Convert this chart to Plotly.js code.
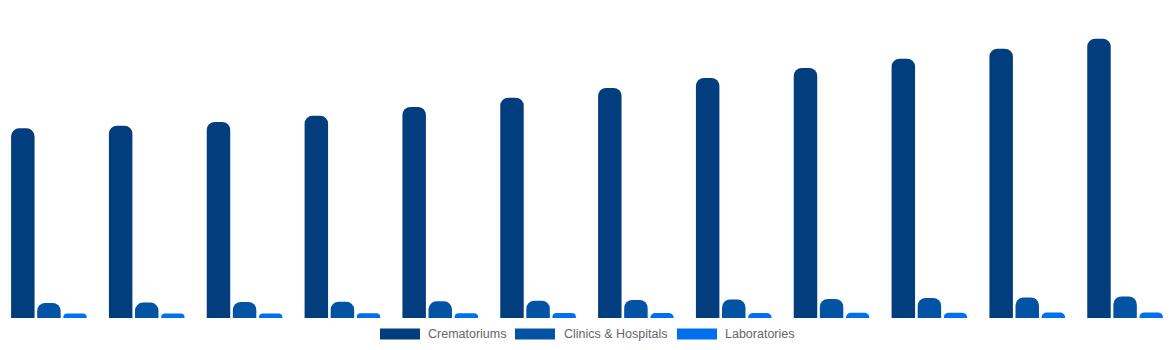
<!DOCTYPE html>
<html>
<head>
<meta charset="utf-8">
<script src="https://cdn.plot.ly/plotly-3.0.1.min.js"></script>
<style>html,body{margin:0;padding:0;background:#fff;}#chart{width:1174px;height:350px;}</style>
</head>
<body>
<div id="chart"></div>
<script>
var years = ["2023","2024","2025","2026","2027","2028","2029","2030","2031","2032","2033","2034"];
var crematoriums = [189.7, 192.3, 196.0, 202.3, 211.0, 220.3, 230.0, 240.0, 250.0, 259.3, 269.3, 279.3];
var clinicsHospitals = [15.0, 15.4, 16.0, 16.3, 16.7, 17.3, 18.0, 18.6, 19.0, 20.0, 20.6, 21.6];
var laboratories = [4.4, 4.5, 4.6, 4.7, 4.8, 4.9, 5.0, 5.1, 5.2, 5.3, 5.4, 5.6];
var seriesNames = ["Crematoriums", "Clinics & Hospitals", "Laboratories"];
var seriesColors = ["#023e7d", "#0353a4", "#0070ee"];
var seriesData = [crematoriums, clinicsHospitals, laboratories];

var W = 1174;
var traces = seriesData.map(function(d, i){
  return {type:'bar', name:seriesNames[i], x:years, y:d, marker:{color:seriesColors[i]}, showlegend:false, hoverinfo:'x+y+name'};
});

// custom legend (Chart.js style wide boxes)
var legendBoxes = [[380,420,426],[515,555,562],[677,717,723]];
var shapes = [], annotations = [];
var plotTop = 18, plotBottom = 318, plotH = plotBottom - plotTop;
function py(px){ return (plotBottom - px) / plotH; }
legendBoxes.forEach(function(b, i){
  shapes.push({type:'rect', xref:'paper', yref:'paper', x0:b[0]/W, x1:b[1]/W, y0:py(339.5), y1:py(328.5),
    fillcolor:seriesColors[i], line:{width:0}});
  annotations.push({xref:'paper', yref:'paper', x:b[2]/W, y:py(333.5), xanchor:'left', yanchor:'middle',
    text:seriesNames[i], showarrow:false, font:{family:'Liberation Sans, Arial, sans-serif', size:12.5, color:'#666666'}});
});

var layout = {
  width:W, height:350,
  margin:{l:0, r:0, t:plotTop, b:350-plotBottom, pad:0},
  paper_bgcolor:'#ffffff', plot_bgcolor:'#ffffff',
  barmode:'group', bargap:0.2, bargroupgap:0.1, barcornerradius:8,
  xaxis:{type:'category', visible:false, showgrid:false, zeroline:false},
  yaxis:{range:[0,300], visible:false, showgrid:false, zeroline:false},
  showlegend:false,
  shapes:shapes, annotations:annotations
};
Plotly.newPlot('chart', traces, layout, {displayModeBar:false, staticPlot:true});
</script>
</body>
</html>
